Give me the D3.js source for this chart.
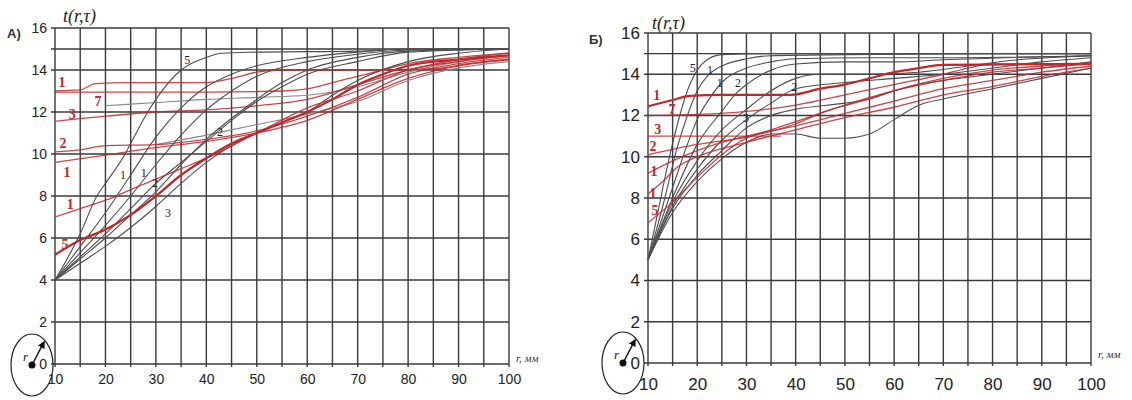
<!DOCTYPE html>
<html>

<head>
    <meta charset="utf-8">
    <script src="https://d3js.org/d3.v7.min.js"></script>
    <title>t(r, tau)</title>
    <style>
        body { margin: 0; background: #fff; }
        svg { display: block; }
        .tick text { font-family: "Liberation Sans Narrow", "Liberation Sans", Arial, sans-serif; fill: #222; }
    </style>
</head>

<body>
    <div id="chart"></div>
</body>

<script>
    // ---- data ----
    const xGridValues = d3.range(10, 101, 5);
    const xTickLabels = d3.range(10, 101, 10);
    const yGridValues = [0, 2, 4, 6, 8, 10, 12, 14, 15, 16];
    const yTickLabels = [0, 2, 4, 6, 8, 10, 12, 14, 16];

    // panel A, black curves (all start at 4)
    const aBlack5 = [[10, 4], [15, 6.2], [18.3, 8], [20, 8.6], [23.9, 10], [25, 10.5], [28.4, 12], [30, 12.6], [35, 14], [40, 14.6], [43, 14.8], [50, 14.85], [70, 14.9], [80, 15], [100, 15]];
    const aBlack1a = [[10, 4], [15, 5.6], [20, 7.2], [25, 9], [30, 10.8], [35, 12.2], [40, 13.2], [45, 13.8], [50, 14.2], [60, 14.6], [70, 14.85], [80, 15], [100, 15]];
    const aBlack1b = [[10, 4], [15, 5.3], [20, 6.6], [25, 8], [30, 9.5], [35, 10.9], [40, 12.1], [45, 13], [50, 13.7], [60, 14.4], [70, 14.75], [80, 14.95], [100, 15]];
    const aBlack2a = [[10, 4], [15, 5.1], [20, 6.2], [25, 7.4], [30, 8.6], [35, 9.6], [40, 10.6], [45, 11.6], [50, 12.5], [55, 13.2], [60, 13.8], [70, 14.4], [80, 14.85], [100, 15]];
    const aBlack2b = [[10, 4], [15, 5], [20, 6], [25, 7.1], [30, 8.2], [35, 9.5], [40, 10.7], [45, 11.7], [50, 12.6], [55, 13.4], [60, 14], [70, 14.6], [80, 14.9], [100, 15]];
    const aBlack3 = [[10, 4], [15, 4.8], [20, 5.6], [25, 6.5], [30, 7.5], [35, 8.6], [40, 9.6], [45, 10.4], [50, 11], [55, 11.5], [60, 12], [65, 12.8], [70, 13.5], [80, 14.4], [90, 14.8], [100, 15]];
    // panel A, grey companions
    const aGrey1 = [[20, 12.3], [30, 12.45], [40, 12.6], [50, 12.7], [60, 12.8], [70, 13.2], [80, 13.9], [90, 14.4], [100, 14.7]];
    const aGrey2 = [[30, 10.45], [40, 10.9], [50, 11.4], [60, 11.9], [70, 12.5], [80, 13.5], [90, 14.1], [100, 14.4]];
    // panel A, red curves
    const aRed1 = [[10, 13], [15, 13.05], [18, 13.35], [25, 13.4], [40, 13.4], [45, 13.6], [50, 13.9], [55, 14], [70, 14], [85, 14.05], [92, 14.3], [100, 14.5]];
    const aRed7 = [[10, 12.95], [40, 12.95], [55, 13], [60, 13.1], [65, 13.4], [70, 13.7], [75, 14], [80, 14.3], [90, 14.6], [100, 14.8]];
    const aRed3 = [[10, 11.55], [20, 11.8], [30, 12], [40, 12.1], [50, 12.3], [60, 12.6], [70, 13.3], [80, 14], [90, 14.5], [100, 14.8]];
    const aRed2 = [[10, 10.1], [15, 10.2], [20, 10.4], [30, 10.45], [40, 10.7], [50, 11.1], [60, 11.8], [70, 12.7], [80, 13.8], [90, 14.3], [100, 14.6]];
    const aRed1b = [[10, 9.6], [20, 9.95], [30, 10.3], [40, 10.6], [50, 11], [60, 11.6], [70, 12.6], [80, 13.6], [90, 14.2], [100, 14.5]];
    const aRed1c = [[10, 7], [15, 7.4], [20, 7.8], [25, 8.3], [30, 8.8], [35, 9.3], [40, 9.8], [50, 11], [60, 12.2], [70, 13], [80, 14], [90, 14.4], [100, 14.7]];
    const aRed5 = [[10, 5.2], [15, 5.9], [20, 6.4], [25, 7.1], [30, 8], [35, 9], [40, 9.8], [45, 10.5], [50, 11], [55, 11.5], [60, 12], [65, 12.6], [70, 13.3], [75, 13.8], [80, 14.2], [90, 14.5], [100, 14.7]];

    // panel B, black curves (all start at 5)
    const bBlack5 = [[10, 5], [12, 7.3], [14, 9.6], [16, 11.6], [18, 13.2], [20, 14.2], [22, 14.7], [25, 14.95], [35, 15], [100, 15]];
    const bBlack1a = [[10, 5], [13, 7.6], [16, 10.5], [18, 12], [20, 13.2], [22, 13.9], [25, 14.4], [30, 14.75], [35, 14.9], [50, 14.95], [80, 15], [100, 15]];
    const bBlack1b = [[10, 5], [15, 8.5], [18, 10.6], [20, 11.8], [23, 13], [25, 13.6], [30, 14.3], [35, 14.6], [40, 14.75], [55, 14.8], [70, 14.8], [100, 14.9]];
    const bBlack2a = [[10, 5], [15, 8], [20, 10.6], [25, 12.2], [28, 13.1], [30, 13.5], [35, 14.2], [40, 14.5], [50, 14.6], [60, 14.6], [70, 14.7], [100, 14.9]];
    const bBlack4 = [[10, 5], [15, 7.8], [20, 9.8], [25, 11.3], [30, 12.3], [35, 13.2], [40, 13.8], [45, 14], [55, 14], [65, 14.1], [75, 14.4], [85, 14.7], [100, 14.9]];
    const bBlack2b = [[10, 5], [15, 7.6], [20, 9.4], [25, 10.8], [30, 11.8], [35, 12.6], [40, 13.3], [50, 13.6], [60, 13.8], [70, 14], [80, 14.3], [90, 14.6], [100, 14.8]];
    const bBlack3 = [[10, 5], [15, 7.5], [20, 9.1], [25, 10.3], [30, 11.4], [35, 12], [40, 12.3], [50, 12.6], [55, 12.8], [60, 13.2], [65, 13.5], [70, 13.7], [80, 14], [90, 14.3], [100, 14.6]];
    const bBlackDip = [[10, 5], [15, 7.3], [20, 8.8], [25, 9.9], [30, 10.7], [35, 11.1], [40, 11.1], [45, 10.9], [50, 10.9], [55, 11.1], [60, 11.8], [65, 12.5], [70, 12.8], [80, 13.3], [90, 13.8], [100, 14.3]];
    // panel B, red curves
    const bRed1 = [[10, 12.45], [15, 12.75], [18.5, 12.95], [25, 13], [39, 13], [45, 13.3], [50, 13.5], [55, 13.8], [60, 14.1], [65, 14.3], [70, 14.45], [100, 14.5]];
    const bRed7 = [[10, 12], [20, 12.05], [30, 12.2], [40, 12.5], [50, 13], [60, 13.5], [70, 14], [75, 14.3], [80, 14.5], [100, 14.5]];
    const bRed3 = [[10, 11], [20, 11], [30, 11], [37, 11]];
    const bRed2 = [[10, 10.1], [20, 10.6], [30, 10.95], [40, 11.6], [46, 12.2], [55, 12.8], [60, 13.2], [70, 13.8], [80, 14.2], [90, 14.4], [100, 14.5]];
    const bRed1b = [[10, 9.2], [15, 9.8], [20, 10.3], [25, 10.7], [30, 11], [40, 11.5], [50, 12.1], [60, 12.7], [70, 13.3], [80, 13.7], [90, 14.1], [100, 14.4]];
    const bRed1c = [[10, 8.2], [13, 8.8], [16, 9.5], [20, 10], [30, 10.7], [40, 11.3], [50, 11.9], [60, 12.4], [70, 13], [80, 13.4], [90, 13.9], [100, 14.3]];
    const bRed5 = [[10, 6.8], [15, 7.8], [20, 9], [25, 10.1], [30, 10.9], [35, 11.3], [40, 11.7], [50, 12.5], [60, 13.2], [70, 13.7], [80, 14.1], [90, 14.3], [100, 14.5]];

    // curve numbers: [x, y, text]
    const aRedLabels = [[11.4, 13.4, "1"], [18.5, 12.5, "7"], [13.4, 11.9, "3"], [11.6, 10.5, "2"], [12.4, 9.1, "1"], [13, 7.6, "1"], [12, 5.7, "5"]];
    const aBlackLabels = [[36.2, 14.5, "5"], [23.5, 9, "1"], [27.6, 9.1, "1"], [29.8, 8.6, "2"], [32.4, 7.2, "3"], [42.7, 11.05, "2"]];
    const bRedLabels = [[11.8, 12.95, "1"], [14.9, 12.27, "7"], [12, 11.3, "3"], [11, 10.5, "2"], [11.2, 9.3, "1"], [11, 8.24, "1"], [11.4, 7.4, "5"]];
    const bBlackLabels = [[19.1, 14.3, "5"], [22.6, 14.2, "1"], [24.6, 13.6, "1"], [28.3, 13.6, "2"], [39.7, 13.4, "2"], [29.9, 11.9, "3"]];

    const RED = "#c0272d";
    const GREY = "#4d4d4d";

    const svg = d3.select("#chart").append("svg")
        .attr("width", 1132)
        .attr("height", 400);

    const panels = [
        {
            name: "А)", xr: [55, 509], yr: [364, 28], font: 14,
            black: [aBlack5, aBlack1a, aBlack1b, aBlack2a, aBlack2b, aBlack3],
            grey: [aGrey1, aGrey2],
            red: [aRed1, aRed7, aRed3, aRed2, aRed1b, aRed1c],
            thickRed: [aRed5],
            redLabels: aRedLabels, blackLabels: aBlackLabels,
            nameAt: [7, 38], titleAt: [63, 22], unitAt: [516, 362], iconAt: [32, 365], labelDy: 20
        },
        {
            name: "Б)", xr: [648, 1091], yr: [363, 33], font: 17,
            black: [bBlack5, bBlack1a, bBlack1b, bBlack2a, bBlack4, bBlack2b, bBlack3, bBlackDip],
            grey: [],
            red: [bRed7, bRed3, bRed2, bRed1b, bRed1c, bRed5],
            thickRed: [bRed1],
            redLabels: bRedLabels, blackLabels: bBlackLabels,
            nameAt: [589, 44], titleAt: [652, 29], unitAt: [1098, 358], iconAt: [623, 363], labelDy: 27
        }
    ];

    // arrow head for the radius icon
    svg.append("defs").append("marker")
        .attr("id", "head")
        .attr("viewBox", "0 0 10 10")
        .attr("refX", 8).attr("refY", 5)
        .attr("markerWidth", 5).attr("markerHeight", 5)
        .attr("orient", "auto")
        .append("path")
        .attr("d", "M0,0 L10,5 L0,10 z")
        .attr("fill", "#111");

    panels.forEach(function (p) {
        const x = d3.scaleLinear().domain([10, 100]).range(p.xr);
        const y = d3.scaleLinear().domain([0, 16]).range(p.yr);
        const g = svg.append("g");

        // grid
        g.selectAll(".vgrid").data(xGridValues).enter().append("line")
            .attr("x1", d => x(d)).attr("x2", d => x(d))
            .attr("y1", y(0) + 3).attr("y2", y(16))
            .attr("stroke", "#3a3a3a").attr("stroke-width", 1.4);
        g.selectAll(".hgrid").data(yGridValues).enter().append("line")
            .attr("x1", x(10) - 4).attr("x2", x(100))
            .attr("y1", d => y(d)).attr("y2", d => y(d))
            .attr("stroke", "#3a3a3a").attr("stroke-width", 1.4);

        // axes labels
        const xAxis = g.append("g")
            .attr("transform", "translate(0," + y(0) + ")")
            .call(d3.axisBottom(x).tickValues(xTickLabels).tickSize(0).tickPadding(p.labelDy - p.font * 0.7));
        const yAxis = g.append("g")
            .attr("transform", "translate(" + x(10) + ",0)")
            .call(d3.axisLeft(y).tickValues(yTickLabels).tickSize(0).tickPadding(8));
        [xAxis, yAxis].forEach(function (a) {
            a.select(".domain").remove();
            a.selectAll("text").style("font-size", p.font + "px");
        });

        // curves
        const line = d3.line()
            .x(d => x(d[0]))
            .y(d => y(d[1]))
            .curve(d3.curveMonotoneX);

        g.selectAll(".grey").data(p.grey).enter().append("path")
            .attr("d", line).attr("fill", "none")
            .attr("stroke", "#8a8a8a").attr("stroke-width", 1.1);
        g.selectAll(".black").data(p.black).enter().append("path")
            .attr("d", line).attr("fill", "none")
            .attr("stroke", GREY).attr("stroke-width", 1.1);
        g.selectAll(".red").data(p.red).enter().append("path")
            .attr("d", line).attr("fill", "none")
            .attr("stroke", RED).attr("stroke-width", 1.3).attr("stroke-opacity", 0.85);
        g.selectAll(".thick").data(p.thickRed).enter().append("path")
            .attr("d", line).attr("fill", "none")
            .attr("stroke", RED).attr("stroke-width", 2.2);

        // curve numbers
        g.selectAll(".rl").data(p.redLabels).enter().append("text")
            .attr("x", d => x(d[0])).attr("y", d => y(d[1]))
            .attr("text-anchor", "middle").attr("dominant-baseline", "central")
            .attr("font-family", "Liberation Serif, serif").attr("font-size", 14)
            .attr("font-weight", "bold").attr("fill", RED)
            .text(d => d[2]);
        g.selectAll(".bl").data(p.blackLabels).enter().append("text")
            .attr("x", d => x(d[0])).attr("y", d => y(d[1]))
            .attr("text-anchor", "middle").attr("dominant-baseline", "central")
            .attr("font-family", "Liberation Serif, serif").attr("font-size", 12)
            .attr("fill", "#222")
            .text(d => d[2]);

        // titles
        g.append("text")
            .attr("x", p.nameAt[0]).attr("y", p.nameAt[1])
            .attr("font-family", "Liberation Sans, sans-serif").attr("font-size", 13)
            .attr("font-weight", "bold").attr("fill", "#333")
            .text(p.name);
        g.append("text")
            .attr("x", p.titleAt[0]).attr("y", p.titleAt[1])
            .attr("font-family", "Liberation Serif, serif").attr("font-size", 18)
            .attr("font-style", "italic").attr("fill", "#222")
            .text("t(r,τ)");
        g.append("text")
            .attr("x", p.unitAt[0]).attr("y", p.unitAt[1])
            .attr("font-family", "Liberation Serif, serif").attr("font-size", 11)
            .attr("font-style", "italic").attr("fill", "#333")
            .text("r, мм");

        // radius icon
        const cx = p.iconAt[0], cy = p.iconAt[1];
        g.append("ellipse")
            .attr("cx", cx).attr("cy", cy).attr("rx", 21).attr("ry", 31)
            .attr("fill", "none").attr("stroke", "#222").attr("stroke-width", 1.2);
        g.append("circle")
            .attr("cx", cx).attr("cy", cy).attr("r", 3.5).attr("fill", "#111");
        g.append("line")
            .attr("x1", cx).attr("y1", cy).attr("x2", cx + 12).attr("y2", cy - 23)
            .attr("stroke", "#111").attr("stroke-width", 1.5)
            .attr("marker-end", "url(#head)");
        g.append("text")
            .attr("x", cx - 9).attr("y", cy - 4)
            .attr("font-family", "Liberation Serif, serif").attr("font-size", 13)
            .attr("font-style", "italic").attr("fill", "#111")
            .text("r");
    });
</script>

</html>
